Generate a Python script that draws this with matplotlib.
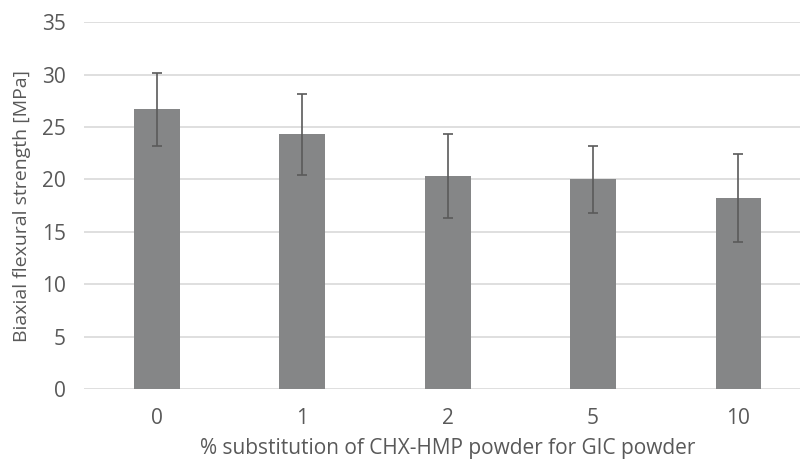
import numpy as np
import matplotlib.pyplot as plt

categories = ['0', '1', '2', '5', '10']
strength = [26.7, 24.3, 20.3, 20.0, 18.2]
sd = [3.5, 3.9, 4.0, 3.2, 4.2]

plt.rcParams['font.family'] = ['Open Sans', 'DejaVu Sans']
text_color = '#595959'

fig = plt.figure(figsize=(8, 4.63), dpi=100)
ax = fig.add_axes([0.105, 0.160, 0.909, 0.7916])

x = np.arange(len(categories))
ax.bar(x, strength, width=0.316, color='#858687', zorder=3,
       yerr=sd, error_kw=dict(ecolor='#5a5a5a', elinewidth=1.2,
                              capsize=3.5, capthick=1.2, zorder=4))

ax.set_xlim(-0.5, 4.5)
ax.set_ylim(0, 35)
ax.set_yticks(range(0, 36, 5))
ax.set_xticks(x)
ax.set_xticklabels(categories)
ax.grid(axis='y', color='#d9d9d9', linewidth=1.2, zorder=0)
for s in ax.spines.values():
    s.set_visible(False)
ax.tick_params(length=0, labelsize=15, labelcolor=text_color)
ax.tick_params(axis='y', pad=13)
ax.tick_params(axis='x', pad=14)

ax.set_ylabel('Biaxial flexural strength [MPa]', fontsize=14,
              color=text_color, labelpad=8)
ax.set_xlabel('% substitution of CHX-HMP powder for GIC powder',
              fontsize=15, color=text_color, labelpad=6)

fig.savefig('out.png', dpi=100)
